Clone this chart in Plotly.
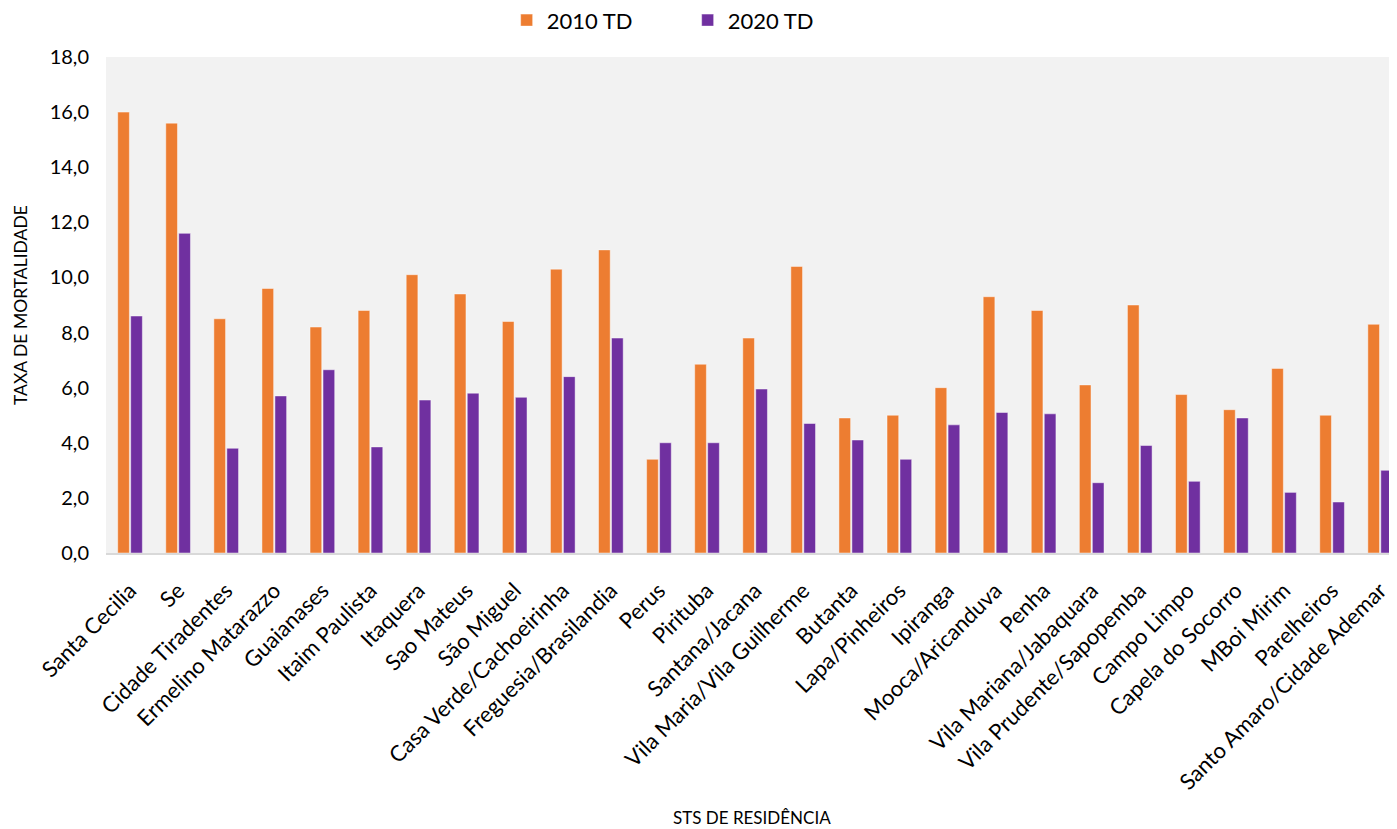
import plotly.graph_objects as go

# Dados
sts = ["Santa Cecilia", "Se", "Cidade Tiradentes", "Ermelino Matarazzo", "Guaianases",
       "Itaim Paulista", "Itaquera", "Sao Mateus", "São Miguel", "Casa Verde/Cachoeirinha",
       "Freguesia/Brasilandia", "Perus", "Pirituba", "Santana/Jacana",
       "Vila Maria/Vila Guilherme", "Butanta", "Lapa/Pinheiros", "Ipiranga",
       "Mooca/Aricanduva", "Penha", "Vila Mariana/Jabaquara", "Vila Prudente/Sapopemba",
       "Campo Limpo", "Capela do Socorro", "MBoi Mirim", "Parelheiros",
       "Santo Amaro/Cidade Ademar"]
td_2010 = [16.0, 15.6, 8.5, 9.6, 8.2, 8.8, 10.1, 9.4, 8.4, 10.3, 11.0, 3.4, 6.85, 7.8,
           10.4, 4.9, 5.0, 6.0, 9.3, 8.8, 6.1, 9.0, 5.75, 5.2, 6.7, 5.0, 8.3]
td_2020 = [8.6, 11.6, 3.8, 5.7, 6.65, 3.85, 5.55, 5.8, 5.65, 6.4, 7.8, 4.0, 4.0, 5.95,
           4.7, 4.1, 3.4, 4.65, 5.1, 5.05, 2.55, 3.9, 2.6, 4.9, 2.2, 1.85, 3.0]

FONT = "Lato, 'Open Sans', sans-serif"

fig = go.Figure()
fig.add_trace(go.Bar(x=sts, y=td_2010, name="2010 TD",
                     marker=dict(color="#ED7D31", line=dict(color="rgba(255,255,255,0.45)", width=1))))
fig.add_trace(go.Bar(x=sts, y=td_2020, name="2020 TD",
                     marker=dict(color="#7030A0", line=dict(color="rgba(255,255,255,0.45)", width=1))))

# a página tem 8px de margem no body, por isso a figura é um pouco menor
fig.update_layout(
    width=1389, height=821,
    margin=dict(l=98, r=0, t=49, b=276),
    paper_bgcolor="white",
    plot_bgcolor="#F2F2F2",
    separators=",.",
    font=dict(family=FONT, size=18, color="black"),
    barmode="group",
    bargap=0.46,
    bargroupgap=0.1,
    showlegend=True,
    legend=dict(orientation="h", xref="container", yref="container",
                x=0.359, xanchor="left", y=0.985, yanchor="middle",
                font=dict(size=22), entrywidth=136, entrywidthmode="pixels",
                bgcolor="rgba(0,0,0,0)"),
    xaxis=dict(range=[-0.5, 26.35], tickangle=-45, showgrid=False,
               showline=True, linecolor="#D9D9D9", linewidth=2,
               ticks="", tickfont=dict(size=22), ticklabelstandoff=14),
    yaxis=dict(range=[0, 18], dtick=2, tickformat=".1f", showgrid=False,
               zeroline=False, ticks="", tickfont=dict(size=20),
               ticklabelstandoff=16),
    annotations=[
        dict(text="TAXA DE MORTALIDADE", xref="paper", yref="paper",
             x=-0.0666, y=0.5, textangle=-90, showarrow=False,
             font=dict(size=17.5), xanchor="center", yanchor="middle"),
        dict(text="STS DE RESIDÊNCIA", xref="paper", yref="paper",
             x=0.5, y=-0.534, showarrow=False,
             font=dict(size=17), xanchor="center", yanchor="middle"),
    ],
)

fig.write_html("out.html")
